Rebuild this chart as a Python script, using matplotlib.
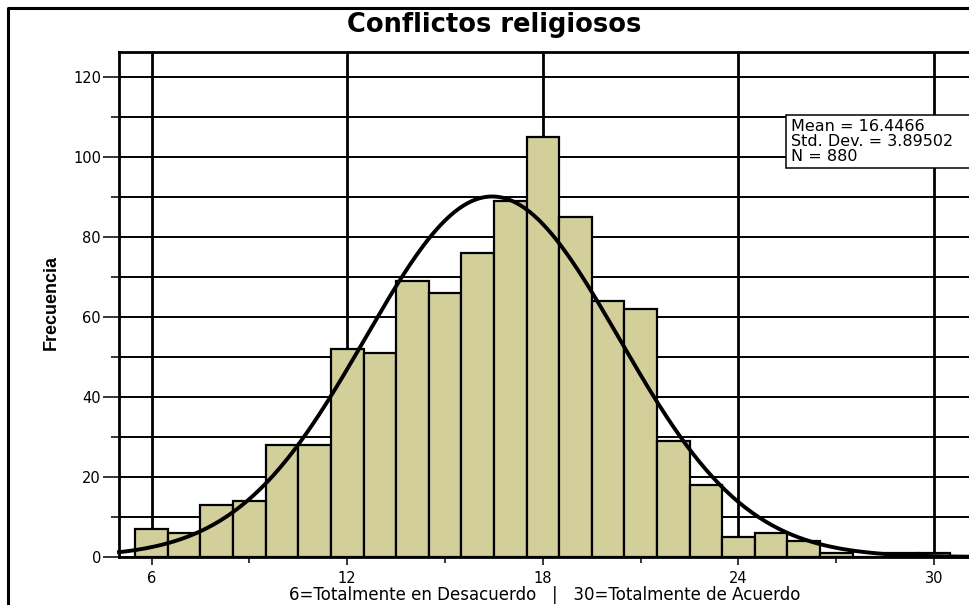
import numpy as np
import matplotlib
matplotlib.use("Agg")
import matplotlib.pyplot as plt
from matplotlib.lines import Line2D
from matplotlib.patches import Rectangle
from matplotlib.ticker import MultipleLocator

plt.rcParams.update({"font.family": "DejaVu Sans"})

# histogram data (one bar per score, width 1)
scores = list(range(6, 31))
counts = [7, 6, 13, 14, 28, 28, 52, 51, 69, 66, 76, 89, 105, 85, 64, 62,
          29, 18, 5, 6, 4, 1, 0, 1, 1]
MEAN = 16.4466
SD = 3.89502
N = 880

title = "Conflictos religiosos"
xlabel = "6=Totalmente en Desacuerdo   |   30=Totalmente de Acuerdo"
ylabel = "Frecuencia"
xticks = [6, 12, 18, 24, 30]
stats_lines = ["Mean = 16.4466", "Std. Dev. = 3.89502", "N = 880"]

BAR = "#d3cf9b"
W, H = 969, 605

fig = plt.figure(figsize=(W / 100, H / 100), dpi=100)
# axes in pixel terms: x=5 at px 119, y=0 at px 557, 32.6 px per unit x, 4 px per unit y
x0, x1 = 5, 32
y1 = 126.25
left_px, bottom_px = 119, 557
ax = fig.add_axes([left_px / W, (H - bottom_px) / H,
                   (x1 - x0) * 32.6 / W, y1 * 4 / H])
ax.set_xlim(x0, x1)
ax.set_ylim(0, y1)

ax.bar(scores, counts, width=1, color=BAR, edgecolor="black", linewidth=1.6, zorder=3)

xs = np.linspace(x0, x1, 400)
curve = N / (SD * np.sqrt(2 * np.pi)) * np.exp(-0.5 * ((xs - MEAN) / SD) ** 2)
ax.plot(xs, curve, color="black", linewidth=2.8, zorder=4, clip_on=False)

ax.set_xticks(xticks)
ax.xaxis.set_minor_locator(MultipleLocator(3))
ax.yaxis.set_major_locator(MultipleLocator(20))
ax.yaxis.set_minor_locator(MultipleLocator(10))
ax.tick_params(axis="y", which="major", length=11.5, width=1.1, pad=1.5, labelsize=10.5)
ax.tick_params(axis="y", which="minor", length=5.8, width=1.1)
ax.tick_params(axis="x", which="major", length=6, width=1.1, pad=4, labelsize=10.5)
ax.tick_params(axis="x", which="minor", length=4.5, width=1.1)

ax.yaxis.grid(True, which="both", color="black", linewidth=1.4, zorder=0)
ax.xaxis.grid(True, which="major", color="black", linewidth=2.0, zorder=0)
ax.set_axisbelow(True)
for s in ax.spines.values():
    s.set_linewidth(2.0)

# outer frame (top and left visible)
fig.add_artist(Line2D([8 / W, 8 / W, 1.1], [-0.1, 1 - 8 / H, 1 - 8 / H],
                      color="black", linewidth=2.2, transform=fig.transFigure))

fig.text(494 / W, 1 - 32.5 / H, title, ha="center", va="baseline",
         fontsize=18.5, fontweight="bold")
fig.text(51 / W, 1 - 302 / H, ylabel, ha="center", va="center", rotation=90,
         fontsize=13, fontweight="bold", family="Liberation Sans")
fig.text(544.5 / W, 1 - 600 / H, xlabel, ha="center", va="baseline", fontsize=12)

# stats box
fig.add_artist(Rectangle((786 / W, 1 - 168 / H), 300 / W, 53 / H,
                         facecolor="white", edgecolor="black", linewidth=1.1,
                         transform=fig.transFigure, zorder=5))
fig.text(791 / W, 1 - 119 / H, "\n".join(stats_lines), ha="left", va="top",
         fontsize=11.5, linespacing=1.0, zorder=6)

fig.savefig("out.png", dpi=100)
